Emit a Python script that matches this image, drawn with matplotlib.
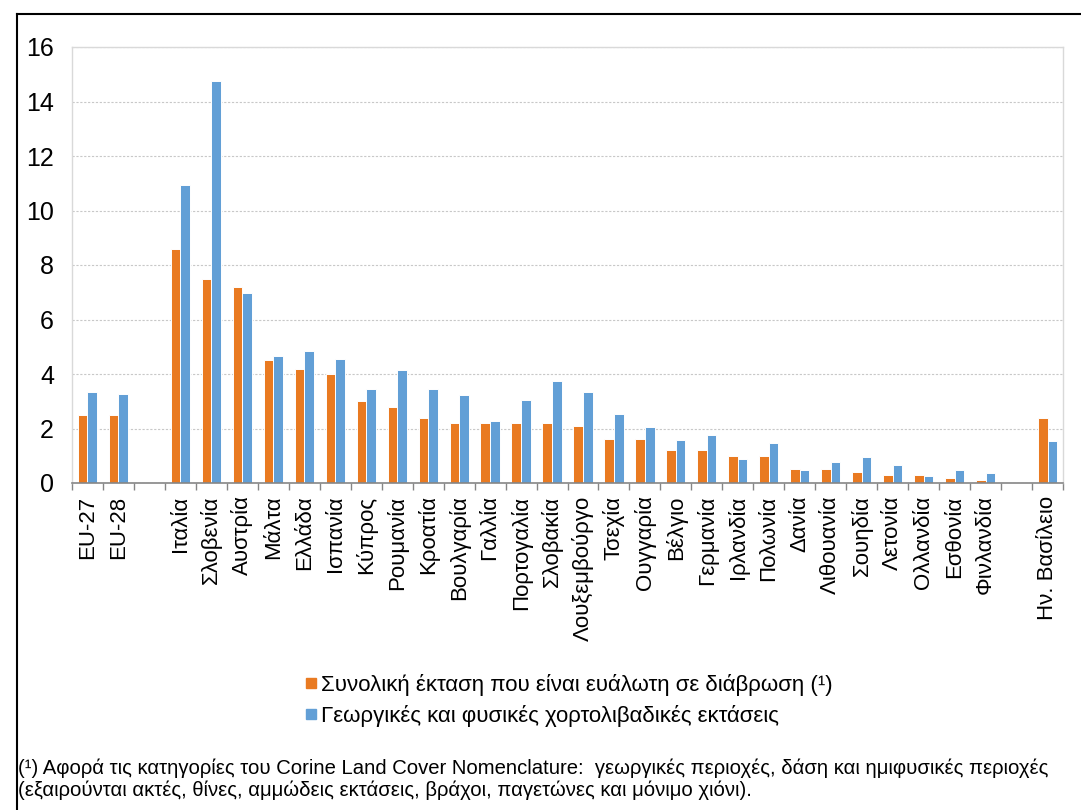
import numpy as np
import matplotlib
matplotlib.use("Agg")
import matplotlib.pyplot as plt
from matplotlib.lines import Line2D

plt.rcParams['font.family'] = ['Liberation Sans', 'DejaVu Sans']

# categories ("" = empty slot in the chart)
countries = ["EU-27", "EU-28", "", "Ιταλία", "Σλοβενία", "Αυστρία", "Μάλτα", "Ελλάδα",
             "Ισπανία", "Κύπρος", "Ρουμανία", "Κροατία", "Βουλγαρία", "Γαλλία",
             "Πορτογαλία", "Σλοβακία", "Λουξεμβούργο", "Τσεχία", "Ουγγαρία", "Βέλγιο",
             "Γερμανία", "Ιρλανδία", "Πολωνία", "Δανία", "Λιθουανία", "Σουηδία",
             "Λετονία", "Ολλανδία", "Εσθονία", "Φινλανδία", "", "Ην. Βασίλειο"]

total_area = [2.5, 2.5, np.nan, 8.6, 7.5, 7.2, 4.5, 4.2, 4.0, 3.0, 2.8, 2.4, 2.2, 2.2,
              2.2, 2.2, 2.1, 1.6, 1.6, 1.2, 1.2, 1.0, 1.0, 0.5, 0.5, 0.4, 0.3, 0.3,
              0.2, 0.1, np.nan, 2.4]
agri_grass = [3.35, 3.25, np.nan, 10.95, 14.75, 6.97, 4.66, 4.86, 4.56, 3.45, 4.15, 3.45,
              3.24, 2.26, 3.05, 3.75, 3.35, 2.55, 2.05, 1.56, 1.75, 0.87, 1.45, 0.46,
              0.77, 0.97, 0.66, 0.25, 0.46, 0.36, np.nan, 1.55]

label_total = "Συνολική έκταση που είναι ευάλωτη σε διάβρωση (¹)"
label_agri = "Γεωργικές και φυσικές χορτολιβαδικές εκτάσεις"
footnote = ("(¹) Αφορά τις κατηγορίες του Corine Land Cover Nomenclature:  γεωργικές περιοχές, "
            "δάση και ημιφυσικές περιοχές\n(εξαιρούνται ακτές, θίνες, αμμώδεις εκτάσεις, "
            "βράχοι, παγετώνες και μόνιμο χιόνι).")

orange = "#E97A21"
blue = "#629FD6"

fig = plt.figure(figsize=(10.81, 8.10), dpi=100)
ax = fig.add_axes([72/1081, 1-483/810, (1063-72)/1081, (483-47)/810])

x = np.arange(len(countries))
w = 0.31
ax.bar(x - w/2, total_area, w, color=orange, edgecolor="white", linewidth=0.7, zorder=3)
ax.bar(x + w/2, agri_grass, w, color=blue, edgecolor="white", linewidth=0.7, zorder=3)

ax.set_xlim(-0.5, len(countries) - 0.5)
ax.set_ylim(0, 16)
ax.set_yticks(np.arange(0, 17, 2))
ax.yaxis.grid(True, color="#C8C8C8", linestyle=(0, (2, 1.5)), linewidth=0.8, zorder=0)
ax.tick_params(axis="y", length=0, pad=13, labelsize=18)

ax.set_xticks(x)
ax.set_xticklabels(countries, rotation=90, fontsize=16)
ax.tick_params(axis="x", which="major", length=0, pad=9)
ax.set_xticks(np.arange(-0.5, len(countries), 1), minor=True)
ax.tick_params(axis="x", which="minor", length=5, width=1, color="#868686", direction="out")

for s in ["left", "right", "top"]:
    ax.spines[s].set_color("#D9D9D9")
    ax.spines[s].set_linewidth(1)
ax.spines["bottom"].set_color("#868686")
ax.spines["bottom"].set_linewidth(1.2)
ax.spines["bottom"].set_zorder(4)

handles = [Line2D([], [], marker="s", linestyle="none", markersize=7, color=orange),
           Line2D([], [], marker="s", linestyle="none", markersize=7, color=blue)]
fig.legend(handles, [label_total, label_agri], loc="upper left",
           bbox_to_anchor=(305/1081, 1-674/810), frameon=False, fontsize=16,
           handlelength=0.5, handletextpad=0.2, labelspacing=0.4,
           borderpad=0, borderaxespad=0)

fig.text(18/1081, 1-779/810, footnote, fontsize=14.6, va="center", ha="left",
         linespacing=1.15)

# outer black frame (top and left edges)
fig.add_artist(Line2D([17/1081, 1], [1-14/810, 1-14/810], color="black", linewidth=1.5))
fig.add_artist(Line2D([17/1081, 17/1081], [0, 1-14/810], color="black", linewidth=1.5))

fig.savefig("out.png", dpi=100)
